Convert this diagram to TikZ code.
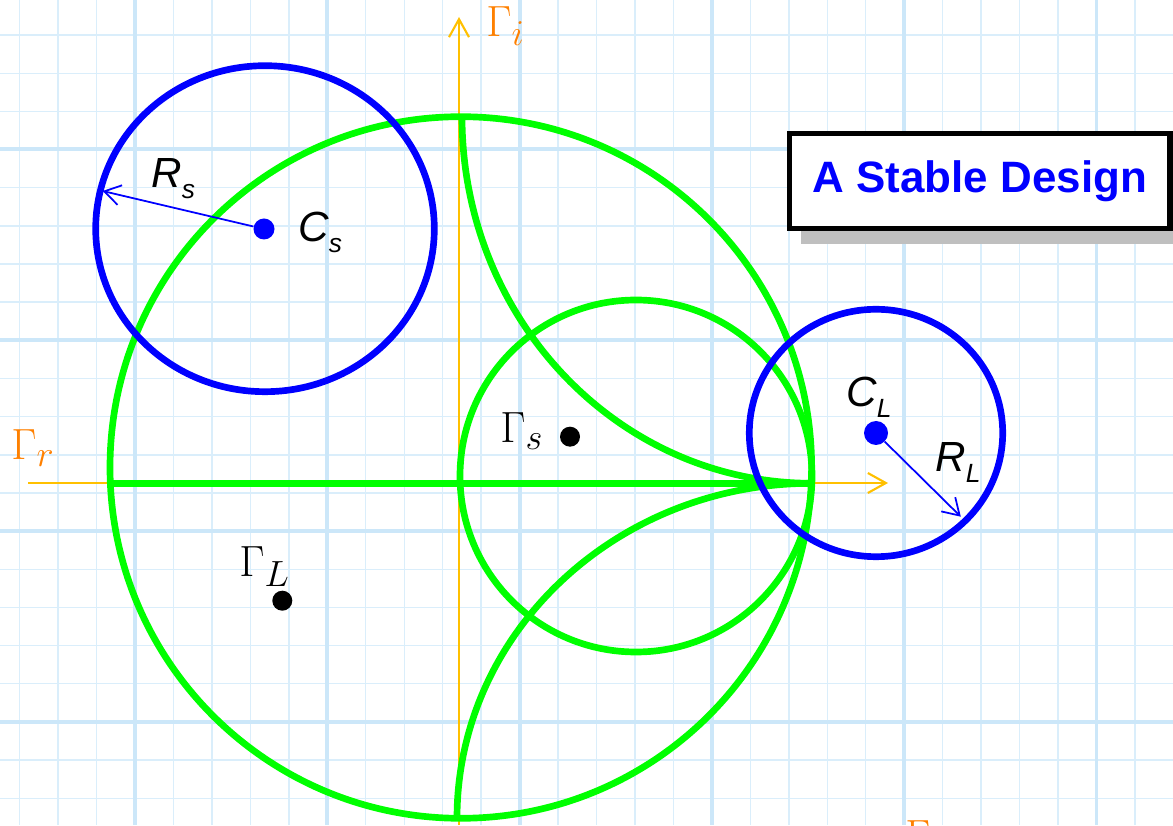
\documentclass[tikz,border=0pt]{standalone}
\usepackage{fontspec}
\usepackage{tikz}
\usepackage{amsmath}
\usetikzlibrary{
  arrows.meta,
  positioning,
  shadows,
  calc
}
\newfontfamily\handfont{Liberation Sans}
\definecolor{smGreen}{RGB}{0,255,0}
\definecolor{smBlue}{RGB}{0,0,255}
\definecolor{smAxis}{RGB}{255,192,0}
\definecolor{smLabel}{RGB}{255,128,0}
\definecolor{smGrid}{RGB}{218,238,251}
\definecolor{smGridMajor}{RGB}{204,231,249}
\definecolor{smShadow}{RGB}{191,191,191}
\newcommand{\hsub}[1]{\raisebox{-6pt}{\fontsize{15}{15}\selectfont #1}}
\tikzset{
  gridminor/.style={smGrid, line width=0.8pt},
  gridmajor/.style={smGridMajor, line width=2.2pt},
  smithline/.style={smGreen, line width=3.8pt},
  stabcircle/.style={smBlue, line width=3.8pt},
  axisline/.style={smAxis, line width=1.2pt, -{Straight Barb[length=3.6mm, width=4mm]}},
  radarrow/.style={smBlue, line width=1pt, -{Straight Barb[length=3.2mm, width=4mm]}},
  dotblue/.style={circle, fill=smBlue, inner sep=0pt, minimum size=4.2mm},
  dotblack/.style={circle, fill=black, inner sep=0pt, minimum size=4mm},
  axislbl/.style={font=\fontsize{24.88}{28}\selectfont, text=smLabel, inner sep=0pt},
  gammalbl/.style={font=\fontsize{24.88}{28}\selectfont, inner sep=0pt},
  handlbl/.style={font=\fontsize{24}{28}\selectfont\handfont\itshape, inner sep=0pt},
  titlebox/.style={
    draw=black, line width=3.1pt, fill=white, minimum width=7.61cm, minimum height=1.9cm,
    drop shadow={shadow xshift=0.22cm, shadow yshift=-0.32cm, fill=smShadow, opacity=1},
    font=\fontsize{25}{30}\selectfont\handfont\bfseries, text=smBlue
  }
}
\begin{document}
\begin{tikzpicture}[x=0.02cm, y=0.02cm]
  \useasboundingbox (0,0) rectangle (1173,825);
  \clip (0,0) rectangle (1173,825);
  % graph paper
  \foreach \k in {0,...,30}
    \draw[gridminor] ({19.6+38.46*\k},0) -- ++(0,825);
  \foreach \j in {0,...,22}
    \draw[gridminor] (0,{828.1-38.16*\j}) -- ++(1173,0);
  \foreach \k in {1,...,6}
    \draw[gridmajor] ({-57.3+192.3*\k},0) -- ++(0,825);
  \foreach \j in {1,...,4}
    \draw[gridmajor] (0,{866.5-190.8*\j}) -- ++(1173,0);

  % axes
  \coordinate (rstart) at (28,342);
  \coordinate (rend) at (888,342);
  \coordinate (istart) at (459,0);
  \coordinate (iend) at (459,808);
  \draw[axisline] (rstart) -- (rend);
  \draw[axisline] (istart) -- (iend);
  \node[axislbl, anchor=base west] (grlbl) at (11,365) {$\Gamma_{r}$};
  \node[axislbl, anchor=base west] (gilbl) at (486,788) {$\Gamma_{i}$};
  \node[axislbl, anchor=base west] (gxlbl) at (905,-25) {$\Gamma$};

  % smith chart
  \draw[smithline] (460.8,357.5) circle (350.8);
  \draw[smithline] (636,349) circle (176);
  \coordinate (hl) at (110.4,341.7);
  \coordinate (hr) at (811.7,341.7);
  \draw[smithline] (hl) -- (hr);
  \coordinate (xtop) at (462,708.3);
  \coordinate (xbot) at (457,6.7);
  \draw[smithline] (xtop) arc[start angle=180, end angle=270, x radius=350, y radius=366.6];
  \draw[smithline] (xbot) arc[start angle=180, end angle=90, x radius=355, y radius=335];

  % source stability circle
  \draw[stabcircle] (265,596.3) ellipse [x radius=169.3, y radius=163];
  \node[dotblue] (cs) at (264,596) {};
  \coordinate (rstip) at (102.6,634);
  \draw[radarrow] (cs) -- (rstip);
  \node[handlbl, anchor=base west] (rslbl) at (151,637) {R\hsub{s}};
  \node[handlbl, anchor=base west] (cslbl) at (298,583) {C\hsub{s}};

  % load stability circle
  \draw[stabcircle] (876,392) ellipse [x radius=126.7, y radius=123.7];
  \node[dotblue, minimum size=4.8mm] (cl) at (876,392) {};
  \coordinate (rltip) at (960.8,308.3);
  \draw[radarrow] (cl) -- (rltip);
  \node[handlbl, anchor=base west] (cllbl) at (846,418) {C\hsub{L}};
  \node[handlbl, anchor=base west] (rllbl) at (935,353) {R\hsub{L}};

  % reflection coefficients
  \node[dotblack] (gs) at (570,388.3) {};
  \node[gammalbl, anchor=base west] (gslbl) at (500,382) {$\Gamma_{s}$};
  \node[dotblack] (gl) at (282.3,224.3) {};
  \node[gammalbl, anchor=base west] (gllbl) at (239,248) {$\Gamma_{L}$};

  \node[titlebox] (title) at (979.75,644.1) {A Stable Design};
\end{tikzpicture}
\end{document}
